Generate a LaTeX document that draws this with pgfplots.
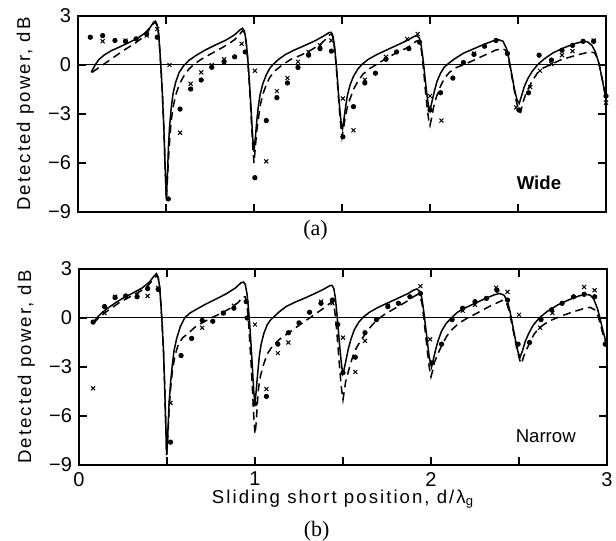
\documentclass[border=0pt]{standalone}
\usepackage{fontspec}
\setmainfont{Liberation Sans}
\newfontfamily\capfont{Liberation Serif}
\newfontfamily\labfont[LetterSpace=11]{Liberation Sans}
\usepackage{pgfplots}
\pgfplotsset{compat=1.18}

\pgfplotsset{
  panel/.style={
    scale only axis, width=264pt, height=98pt,
    xmin=0, xmax=3, ymin=-9, ymax=3,
    clip mode=individual,
    xtick={0,0.5,...,3}, ytick={-9,-6,-3,0,3},
    yticklabels={−9,−6,−3,0,3},
    /pgf/number format/assume math mode=true,
    tick align=inside, major tick length=4pt,
    every tick/.style={black, line width=0.6pt},
    axis line style={line width=0.75pt},
    ticklabel style={font=\fontsize{10}{11}\selectfont},
    ylabel={Detected power, dB},
    ylabel style={at={(axis description cs:-0.1,0.5)}, anchor=center,
                  font=\labfont\fontsize{9.3}{10}\selectfont},
  },
  theory/.style={black, line width=0.75pt, mark=none},
  model/.style={black, line width=0.75pt, dash pattern=on 4pt off 2.5pt, mark=none},
  dots/.style={black, only marks, mark=*, mark size=1.1pt},
  crosses/.style={black, only marks, mark=x, mark size=1.4pt, line width=0.5pt},
  zeroline/.style={black, line width=0.5pt, mark=none},
}

\begin{document}
\begin{tikzpicture}
\useasboundingbox (0,0) rectangle (308pt,270.5pt);

% (a) wide
\begin{axis}[panel, at={(39pt,164.5pt)}, anchor=south west, xticklabels={}]
\addplot[zeroline] coordinates {(0,0) (3,0)};
\addplot[theory] coordinates {
 (0.075,-0.45) (0.09,-0.15) (0.10,0.05) (0.12,0.35) (0.15,0.62) (0.19,0.88) (0.24,1.12)
 (0.29,1.38) (0.34,1.65) (0.38,1.95) (0.41,2.30) (0.43,2.62) (0.44,2.68) (0.45,2.45)
 (0.458,1.9) (0.465,0.9) (0.472,-0.3) (0.48,-1.9) (0.488,-3.9) (0.495,-6.2) (0.502,-8.2)
 (0.508,-6.8) (0.514,-5.0) (0.52,-3.8) (0.53,-2.6) (0.54,-1.75) (0.555,-1.05) (0.575,-0.45)
 (0.60,-0.05) (0.63,0.28) (0.67,0.58) (0.72,0.90) (0.78,1.22) (0.84,1.52) (0.89,1.85)
 (0.92,2.15) (0.935,2.25) (0.945,2.10) (0.955,1.5) (0.963,0.6) (0.97,-0.4) (0.978,-1.7)
 (0.986,-3.2) (0.993,-4.5) (1.0,-5.3)
 (1.008,-4.4) (1.016,-3.4) (1.025,-2.5) (1.035,-1.8) (1.05,-1.15) (1.07,-0.6) (1.09,-0.2)
 (1.11,0.05) (1.14,0.35) (1.18,0.65) (1.23,0.92) (1.29,1.2) (1.35,1.5) (1.40,1.8)
 (1.425,1.98) (1.438,2.0) (1.448,1.8) (1.457,1.2) (1.465,0.3) (1.473,-0.7) (1.481,-1.9)
 (1.49,-3.0) (1.497,-3.7) (1.503,-3.9)
 (1.51,-3.4) (1.52,-2.6) (1.53,-1.9) (1.545,-1.25) (1.565,-0.7) (1.59,-0.25) (1.615,0.05)
 (1.65,0.35) (1.70,0.65) (1.76,0.95) (1.82,1.25) (1.87,1.5) (1.905,1.72) (1.925,1.8)
 (1.94,1.65) (1.95,1.2) (1.96,0.4) (1.97,-0.6) (1.98,-1.6) (1.99,-2.4) (2.0,-2.8)
 (2.01,-2.3) (2.025,-1.6) (2.04,-1.0) (2.06,-0.5) (2.08,-0.15) (2.10,0.05) (2.14,0.38)
 (2.19,0.72) (2.25,1.0) (2.31,1.28) (2.36,1.48) (2.39,1.55) (2.415,1.45) (2.435,1.0)
 (2.45,0.3) (2.465,-0.6) (2.48,-1.5) (2.495,-2.15) (2.507,-2.35)
 (2.52,-1.9) (2.535,-1.35) (2.555,-0.85) (2.58,-0.4) (2.61,0.0) (2.65,0.38) (2.70,0.75)
 (2.76,1.05) (2.82,1.3) (2.87,1.44) (2.895,1.42) (2.92,1.2) (2.94,0.8) (2.96,0.1)
 (2.975,-0.7) (2.99,-1.5) (3.0,-2.1)
};
\addplot[model] coordinates {
 (0.08,-0.45) (0.14,0.0) (0.20,0.45) (0.26,0.9) (0.32,1.3) (0.37,1.7) (0.40,2.1)
 (0.425,2.5) (0.44,2.62) (0.45,2.4) (0.458,1.9) (0.465,0.9) (0.472,-0.3) (0.48,-1.9)
 (0.488,-3.9) (0.495,-6.2) (0.502,-8.2)
 (0.508,-7.0) (0.515,-5.6) (0.522,-4.4) (0.53,-3.4) (0.54,-2.6) (0.555,-1.85) (0.575,-1.2)
 (0.60,-0.7) (0.63,-0.25) (0.66,0.05) (0.70,0.35) (0.75,0.65) (0.80,0.95) (0.85,1.25)
 (0.89,1.55) (0.92,1.9) (0.935,2.1) (0.945,2.0) (0.955,1.4) (0.963,0.5) (0.97,-0.6)
 (0.978,-2.0) (0.986,-3.6) (0.993,-5.0) (1.0,-6.0)
 (1.008,-5.0) (1.016,-4.0) (1.025,-3.3) (1.035,-2.5) (1.05,-1.8) (1.07,-1.2) (1.09,-0.75)
 (1.12,-0.35) (1.16,0.0) (1.21,0.35) (1.27,0.62) (1.33,0.95) (1.38,1.3) (1.41,1.6)
 (1.43,1.85) (1.442,1.9) (1.452,1.5) (1.46,0.8) (1.468,-0.2) (1.476,-1.4) (1.484,-2.6)
 (1.492,-3.6) (1.50,-4.4)
 (1.508,-3.9) (1.517,-3.3) (1.53,-2.6) (1.545,-2.1) (1.565,-1.5) (1.59,-1.0) (1.62,-0.55)
 (1.66,-0.2) (1.70,0.05) (1.75,0.4) (1.81,0.75) (1.86,1.0) (1.90,1.25) (1.92,1.45)
 (1.935,1.5) (1.947,1.2) (1.957,0.4) (1.966,-0.6) (1.975,-1.7) (1.985,-2.7) (1.993,-3.4)
 (2.0,-3.7)
 (2.01,-3.2) (2.02,-2.6) (2.035,-2.0) (2.055,-1.4) (2.08,-0.85) (2.11,-0.45) (2.15,-0.15)
 (2.2,0.05) (2.26,0.35) (2.32,0.65) (2.37,0.9) (2.41,1.0) (2.43,0.9) (2.445,0.4)
 (2.46,-0.4) (2.475,-1.3) (2.49,-2.2) (2.505,-2.85) (2.515,-2.9)
 (2.525,-2.4) (2.54,-1.9) (2.56,-1.4) (2.585,-0.9) (2.61,-0.5) (2.64,-0.2) (2.68,0.0)
 (2.74,0.3) (2.80,0.5) (2.86,0.68) (2.91,0.8) (2.935,0.75) (2.955,0.3) (2.97,-0.4)
 (2.985,-1.2) (3.0,-2.1)
};
\addplot[dots] coordinates {
 (0.07,1.7) (0.14,1.8) (0.21,1.5) (0.27,1.45) (0.33,1.6) (0.39,1.9) (0.45,1.7)
 (0.513,-8.2) (0.58,-2.7) (0.64,-1.47) (0.70,-0.92) (0.76,-0.14) (0.83,0.2) (0.89,0.5)
 (0.95,0.8) (1.005,-6.9) (1.07,-3.4) (1.13,-2.0) (1.19,-1.1) (1.25,-0.15) (1.31,0.6)
 (1.375,1.0) (1.44,0.85) (1.505,-4.4) (1.565,-2.55) (1.63,-1.1) (1.69,-0.5) (1.75,0.35)
 (1.81,0.8) (1.88,1.0) (1.94,1.4) (2.0,-2.75) (2.06,-1.7) (2.13,-0.8) (2.19,0.15)
 (2.25,0.65) (2.31,1.15) (2.375,1.5) (2.44,0.7) (2.505,-2.75) (2.56,-1.7) (2.62,0.6)
 (2.69,0.3) (2.75,0.9) (2.81,1.2) (2.87,1.45) (2.93,1.45) (3.0,-1.9)
};
\addplot[crosses] coordinates {
 (0.14,1.45) (0.27,1.5) (0.39,1.8) (0.45,2.2) (0.52,0.0) (0.58,-4.15) (0.64,-1.15)
 (0.70,-0.45) (0.76,0.0) (0.83,0.35) (0.93,1.3) (1.005,-0.35) (1.07,-5.9) (1.13,-1.6)
 (1.19,-0.8) (1.25,0.2) (1.31,0.8) (1.375,1.2) (1.44,1.5) (1.505,-2.05) (1.565,-4.0)
 (1.63,-0.9) (1.75,0.5) (1.87,1.6) (1.93,1.9) (2.0,-1.9) (2.065,-3.4) (2.25,0.7)
 (2.49,-2.6) (2.57,-1.35) (2.625,-0.35) (2.69,0.05) (2.75,0.6) (2.81,0.85) (2.93,1.5)
 (3.0,-2.3)
};
\node[font=\bfseries\fontsize{9.3}{10}\selectfont] at (axis description cs:0.873,0.148) {Wide};
\node[font=\capfont\fontsize{11}{12}\selectfont] at (axis description cs:0.45,-0.095) {(a)};
\end{axis}

% (b) narrow
\begin{axis}[panel, at={(39.5pt,38pt)}, anchor=south west,
  xticklabels={0,,1,,2,,3},
  xlabel={Sliding short position, d/λ\textsubscript{g}},
  xlabel style={at={(axis description cs:0.50,-0.175)}, anchor=center,
                font=\labfont\fontsize{9.3}{10}\selectfont}]
\addplot[zeroline] coordinates {(0,0) (3,0)};
\addplot[theory] coordinates {
 (0.08,-0.30) (0.10,0.00) (0.13,0.32) (0.16,0.58) (0.21,0.95) (0.26,1.28) (0.31,1.55)
 (0.36,1.85) (0.40,2.2) (0.425,2.55) (0.44,2.72) (0.45,2.5) (0.458,1.9) (0.465,0.9)
 (0.472,-0.3) (0.48,-2.0) (0.486,-3.9) (0.492,-6.2) (0.498,-8.4)
 (0.505,-7.0) (0.512,-5.2) (0.52,-4.0) (0.53,-2.9) (0.54,-2.0) (0.555,-1.25) (0.575,-0.55)
 (0.60,0.0) (0.63,0.3) (0.67,0.55) (0.72,0.85) (0.78,1.17) (0.84,1.5) (0.89,1.85)
 (0.92,2.15) (0.935,2.2) (0.945,2.05) (0.955,1.45) (0.963,0.55) (0.97,-0.4) (0.978,-1.7)
 (0.986,-3.2) (0.993,-4.5) (1.0,-5.3)
 (1.008,-4.3) (1.016,-3.3) (1.025,-2.3) (1.035,-1.6) (1.05,-0.95) (1.07,-0.4) (1.09,-0.1)
 (1.105,0.05) (1.14,0.4) (1.18,0.72) (1.23,0.98) (1.29,1.25) (1.35,1.55) (1.40,1.82)
 (1.425,1.98) (1.438,2.0) (1.448,1.8) (1.457,1.2) (1.465,0.3) (1.473,-0.7) (1.481,-1.7)
 (1.49,-2.7) (1.498,-3.4)
 (1.505,-3.2) (1.515,-2.7) (1.53,-1.9) (1.545,-1.3) (1.565,-0.7) (1.59,-0.25) (1.615,0.05)
 (1.65,0.35) (1.70,0.65) (1.76,0.95) (1.82,1.25) (1.87,1.5) (1.90,1.7) (1.92,1.78)
 (1.94,1.6) (1.95,1.1) (1.96,0.3) (1.97,-0.6) (1.98,-1.5) (1.99,-2.4) (2.003,-3.0)
 (2.012,-2.6) (2.025,-2.0) (2.04,-1.4) (2.06,-0.8) (2.085,-0.35) (2.115,0.0) (2.15,0.35)
 (2.19,0.6) (2.25,0.9) (2.31,1.2) (2.36,1.42) (2.39,1.5) (2.415,1.4) (2.435,1.0)
 (2.45,0.35) (2.465,-0.5) (2.48,-1.35) (2.495,-2.1) (2.506,-2.4)
 (2.52,-2.0) (2.535,-1.45) (2.555,-0.95) (2.58,-0.45) (2.615,0.0) (2.66,0.4) (2.72,0.8)
 (2.78,1.1) (2.84,1.35) (2.88,1.45) (2.905,1.4) (2.925,1.15) (2.945,0.6) (2.96,0.0)
 (2.975,-0.7) (2.99,-1.3) (3.0,-1.7)
};
\addplot[model] coordinates {
 (0.08,-0.35) (0.12,0.1) (0.17,0.5) (0.23,0.95) (0.29,1.3) (0.35,1.65) (0.39,1.95)
 (0.42,2.35) (0.44,2.6) (0.45,2.45) (0.458,1.9) (0.465,0.9) (0.472,-0.3) (0.48,-2.0)
 (0.486,-3.9) (0.492,-6.2) (0.498,-8.4)
 (0.505,-7.2) (0.512,-5.6) (0.52,-4.4) (0.53,-3.3) (0.545,-2.3) (0.565,-1.6) (0.59,-1.2)
 (0.62,-0.95) (0.66,-0.55) (0.70,-0.3) (0.75,0.0) (0.81,0.3) (0.86,0.6) (0.905,0.95)
 (0.93,1.3) (0.945,1.3) (0.955,0.8) (0.963,-0.2) (0.97,-1.4) (0.978,-2.8) (0.986,-4.5)
 (0.993,-6.0) (1.0,-7.1)
 (1.007,-6.4) (1.013,-5.3) (1.02,-4.3) (1.03,-3.6) (1.047,-2.9) (1.07,-2.2) (1.10,-1.7)
 (1.14,-1.3) (1.18,-1.0) (1.23,-0.6) (1.27,-0.3) (1.31,0.0) (1.35,0.3) (1.39,0.6)
 (1.42,0.85) (1.44,1.0) (1.45,0.7) (1.458,0.0) (1.466,-1.0) (1.474,-2.1) (1.482,-3.2)
 (1.49,-4.2) (1.50,-5.0)
 (1.507,-4.5) (1.515,-3.9) (1.525,-3.5) (1.54,-2.9) (1.56,-2.2) (1.578,-1.8) (1.60,-1.4)
 (1.625,-1.0) (1.66,-0.5) (1.69,-0.15) (1.74,0.25) (1.805,0.65) (1.86,1.0) (1.90,1.3)
 (1.925,1.45) (1.94,1.3) (1.95,0.8) (1.96,-0.1) (1.97,-1.1) (1.98,-2.1) (1.99,-3.0)
 (2.0,-3.6)
 (2.01,-3.2) (2.02,-2.7) (2.035,-2.3) (2.06,-1.7) (2.09,-1.1) (2.12,-0.7) (2.16,-0.3)
 (2.2,-0.05) (2.27,0.35) (2.33,0.7) (2.38,0.95) (2.41,1.1) (2.43,0.9) (2.445,0.4)
 (2.46,-0.4) (2.475,-1.2) (2.49,-2.0) (2.505,-2.6) (2.515,-2.8)
 (2.525,-2.4) (2.54,-2.0) (2.56,-1.55) (2.585,-1.0) (2.615,-0.6) (2.648,-0.35) (2.69,-0.1)
 (2.76,0.2) (2.82,0.42) (2.875,0.6) (2.905,0.65) (2.93,0.5) (2.95,0.1) (2.965,-0.5)
 (2.98,-1.1) (3.0,-1.7)
};
\addplot[dots] coordinates {
 (0.08,-0.25) (0.145,0.7) (0.205,1.25) (0.265,1.35) (0.33,1.3) (0.39,1.8) (0.45,1.75)
 (0.52,-7.6) (0.58,-2.3) (0.64,-1.25) (0.70,-0.15) (0.76,-0.2) (0.82,0.3) (0.88,0.6)
 (0.95,1.0) (0.955,0.0) (1.0,-5.25) (1.065,-4.8) (1.13,-1.6) (1.19,-0.9) (1.25,-0.3)
 (1.31,0.35) (1.375,0.9) (1.44,1.1) (1.47,-0.4) (1.5,-3.35) (1.57,-2.4) (1.625,-0.9)
 (1.69,-0.1) (1.755,0.7) (1.815,0.9) (1.88,1.3) (1.94,1.5) (2.005,-2.75) (2.06,-1.6)
 (2.12,-0.1) (2.18,0.6) (2.25,1.0) (2.315,1.2) (2.375,1.7) (2.435,1.1) (2.495,-1.6)
 (2.56,-1.5) (2.625,-0.1) (2.685,0.5) (2.745,0.9) (2.81,1.3) (2.87,1.45) (2.93,1.3)
 (2.99,-1.6)
};
\addplot[crosses] coordinates {
 (0.08,-4.3) (0.145,0.3) (0.205,1.3) (0.33,1.4) (0.39,1.35) (0.45,1.85) (0.52,-5.2)
 (0.70,-0.6) (0.82,0.3) (0.88,0.75) (1.0,-0.4) (1.065,-4.35) (1.13,-2.15) (1.19,-1.5)
 (1.375,1.0) (1.44,0.9) (1.5,-1.2) (1.57,-3.3) (1.625,-1.4) (1.755,0.75) (1.94,1.95)
 (1.995,-1.3) (2.18,0.45) (2.25,0.8) (2.37,1.85) (2.435,1.6) (2.5,0.2) (2.62,-0.6)
 (2.69,0.3) (2.87,1.9) (2.93,1.7)
};
\node[font=\fontsize{9.3}{10}\selectfont] at (axis description cs:0.884,0.147) {Narrow};
\node[font=\capfont\fontsize{11}{12}\selectfont] at (axis description cs:0.45,-0.34) {(b)};
\end{axis}
\end{tikzpicture}
\end{document}
